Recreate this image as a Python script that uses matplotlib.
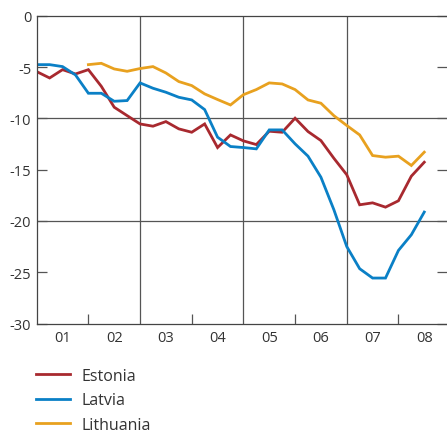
import numpy as np
import matplotlib
matplotlib.use("Agg")
import matplotlib.pyplot as plt
from matplotlib.ticker import FixedLocator, NullFormatter

# Quarterly observations, 2001 Q1 - 2008 Q3
quarters = 2001 + np.arange(31) / 4.0

estonia = [-5.45, -6.07, -5.26, -5.68, -5.26, -6.88, -8.92, -9.74,
           -10.55, -10.77, -10.32, -11.03, -11.36, -10.55, -12.85, -11.62,
           -12.2, -12.56, -11.26, -11.36, -9.99, -11.29, -12.17, -13.89,
           -15.5, -18.43, -18.24, -18.66, -18.04, -15.64, -14.28]

latvia = [-4.77, -4.77, -4.96, -5.77, -7.56, -7.56, -8.34, -8.27,
          -6.55, -7.07, -7.46, -7.95, -8.21, -9.15, -11.84, -12.75,
          -12.85, -12.98, -11.13, -11.13, -12.49, -13.69, -15.74, -18.9,
          -22.5, -24.66, -25.57, -25.57, -22.88, -21.35, -19.14]

lithuania = [np.nan, np.nan, np.nan, np.nan, -4.77, -4.64, -5.19, -5.42,
             -5.15, -4.96, -5.58, -6.42, -6.81, -7.62, -8.17, -8.7,
             -7.7, -7.2, -6.55, -6.65, -7.2, -8.21, -8.53, -9.74,
             -10.7, -11.62, -13.63, -13.79, -13.69, -14.6, -13.3]

series_names = ["Estonia", "Latvia", "Lithuania"]
series_colors = ["#A8292F", "#0A80C6", "#E8A11F"]

year_labels = ["01", "02", "03", "04", "05", "06", "07", "08"]
y_ticks = [0, -5, -10, -15, -20, -25, -30]

plt.rcParams["font.family"] = ["Open Sans", "DejaVu Sans"]
text_color = "#333333"

fig = plt.figure(figsize=(4.47, 4.35), dpi=100)
ax = fig.add_axes([36.7 / 447, 1 - 324.5 / 435, 1 - 36.7 / 447, (324.5 - 16.7) / 435])

for name, vals, col in zip(series_names, [estonia, latvia, lithuania], series_colors):
    ax.plot(quarters, vals, color=col, lw=2.0, label=name, solid_joinstyle="miter")

ax.set_xlim(2001, 2008.94)
ax.set_ylim(-30, 0)

# grid lines every second year and every ten units
for x in [2003, 2005, 2007]:
    ax.axvline(x, color="#555555", lw=0.9, zorder=0)
for y in [-10, -20]:
    ax.axhline(y, color="#555555", lw=0.9, zorder=0)

ax.set_yticks(y_ticks)
ax.set_yticklabels([str(v) for v in y_ticks])
ax.tick_params(axis="y", direction="in", length=7, width=0.9, color="#555555",
               left=True, right=True, labelsize=10.5, labelcolor=text_color, pad=4)

centers = [2001.5 + i for i in range(len(year_labels))]
ax.xaxis.set_major_locator(FixedLocator(centers))
ax.set_xticklabels(year_labels)
ax.xaxis.set_minor_locator(FixedLocator([2002, 2004, 2006, 2008]))
ax.xaxis.set_minor_formatter(NullFormatter())
ax.tick_params(axis="x", which="major", length=0, labelsize=10.5,
               labelcolor=text_color, pad=5)
ax.tick_params(axis="x", which="minor", direction="in", length=7, width=0.9,
               color="#555555")

for side in ["left", "top", "bottom"]:
    ax.spines[side].set_color("#444444")
    ax.spines[side].set_linewidth(0.9)
ax.spines["right"].set_visible(False)

leg = fig.legend(loc="upper left", bbox_to_anchor=(36 / 447, 1 - 369 / 435),
                 frameon=False, fontsize=11.5, handlelength=2.1,
                 handletextpad=0.75, labelspacing=0.52, borderpad=0,
                 borderaxespad=0)
for t in leg.get_texts():
    t.set_color(text_color)

fig.savefig("out.png", dpi=100)
